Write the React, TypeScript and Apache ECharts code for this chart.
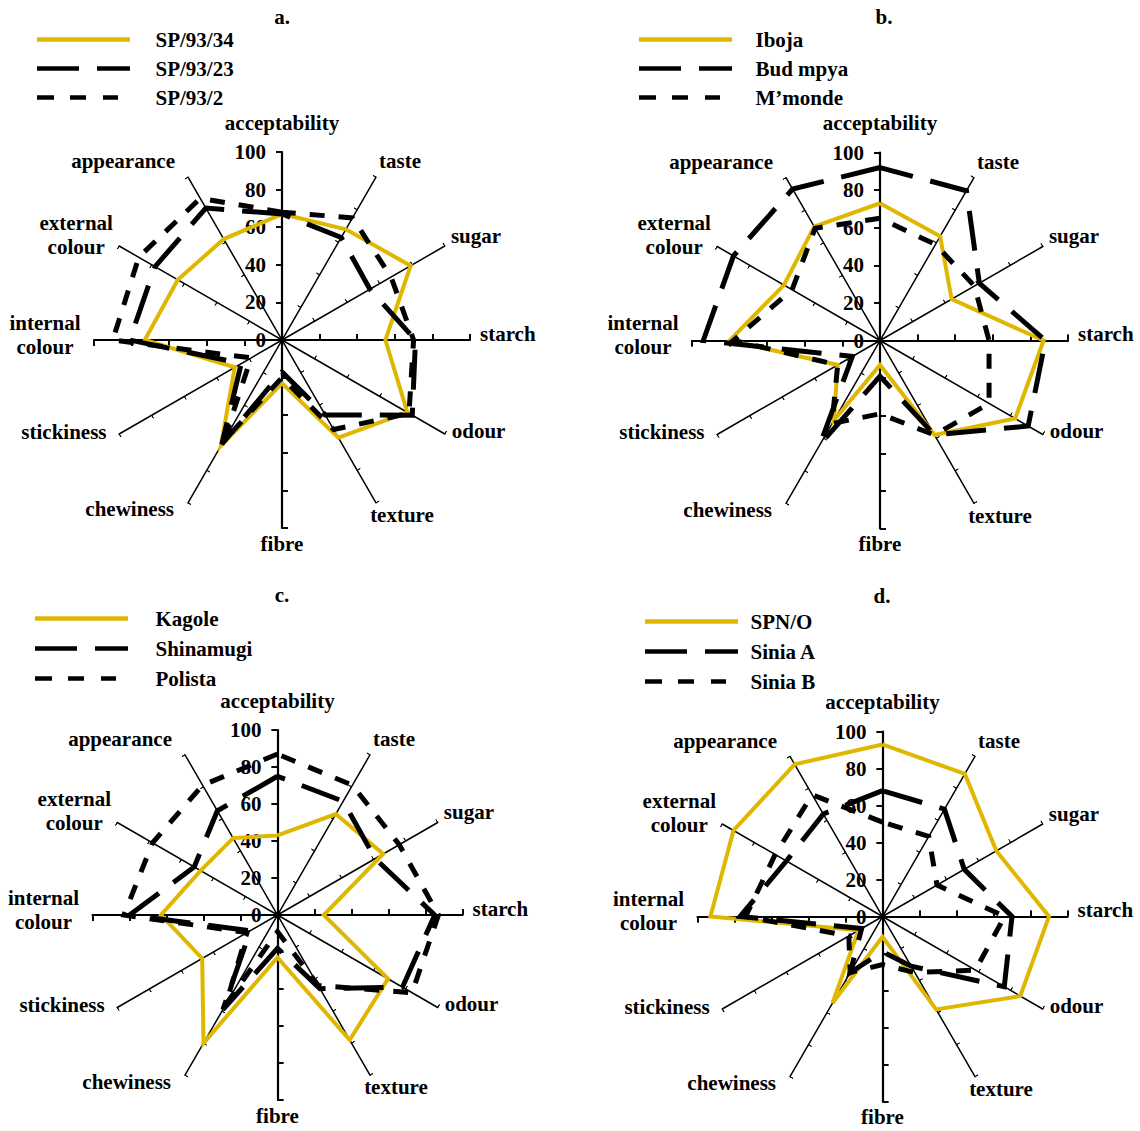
import React, { useEffect, useRef } from 'react';
import * as echarts from 'echarts';

// Attributes in clockwise order starting at the top
const attributes = [
  'acceptability', 'taste', 'sugar', 'starch', 'odour', 'texture',
  'fibre', 'chewiness', 'stickiness', 'internal\ncolour', 'external\ncolour', 'appearance',
];

// Panel a
const panelATitle = 'a.';
const sp93_34 = [67, 68, 79, 55, 77, 60, 23, 65, 29, 73, 64, 62];
const sp93_23 = [67, 63, 54, 71, 80, 46, 17, 64, 25, 81, 78, 81];
const sp93_2 = [68, 75, 67, 70, 78, 55, 20, 62, 19, 90, 88, 87];
// Panel b
const panelBTitle = 'b.';
const iboja = [73, 64, 44, 87, 83, 58, 13, 49, 26, 80, 59, 70];
const budMpya = [92, 92, 61, 88, 91, 58, 19, 64, 17, 94, 90, 93];
const mmonde = [65, 59, 58, 58, 67, 58, 39, 51, 26, 78, 54, 69];
// Panel c
const panelCTitle = 'c.';
const kagole = [43, 63, 66, 25, 69, 78, 23, 80, 47, 63, 48, 48];
const shinamugi = [75, 71, 61, 85, 78, 46, 18, 59, 17, 80, 52, 65];
const polista = [87, 81, 76, 87, 84, 44, 9, 56, 19, 83, 78, 81];
// Panel d
const panelDTitle = 'd.';
const spno = [93, 89, 71, 90, 86, 58, 11, 54, 15, 93, 93, 95];
const siniaA = [68, 67, 51, 70, 76, 31, 19, 35, 13, 77, 60, 64];
const siniaB = [51, 50, 34, 66, 58, 35, 26, 35, 21, 74, 67, 76];

const scaleMin = 0;
const scaleMax = 100;
const scaleSplits = 5;

type Kind = 'solid' | 'long' | 'short';

const panelSeries: { title: string; items: { name: string; values: number[]; kind: Kind }[] }[] = [
  { title: panelATitle, items: [
    { name: 'SP/93/34', values: sp93_34, kind: 'solid' },
    { name: 'SP/93/23', values: sp93_23, kind: 'long' },
    { name: 'SP/93/2', values: sp93_2, kind: 'short' },
  ] },
  { title: panelBTitle, items: [
    { name: 'Iboja', values: iboja, kind: 'solid' },
    { name: 'Bud mpya', values: budMpya, kind: 'long' },
    { name: 'M\u2019monde', values: mmonde, kind: 'short' },
  ] },
  { title: panelCTitle, items: [
    { name: 'Kagole', values: kagole, kind: 'solid' },
    { name: 'Shinamugi', values: shinamugi, kind: 'long' },
    { name: 'Polista', values: polista, kind: 'short' },
  ] },
  { title: panelDTitle, items: [
    { name: 'SPN/O', values: spno, kind: 'solid' },
    { name: 'Sinia A', values: siniaA, kind: 'long' },
    { name: 'Sinia B', values: siniaB, kind: 'short' },
  ] },
];

// Layout (positions / sizes)
const layout = [
  { center: [282, 340], radius: 188, titleXY: [282, 17], legend: { left: 37, top: 29, gap: 8, width: 116 } },
  { center: [880, 340.5], radius: 188, titleXY: [884, 17], legend: { left: 639, top: 29, gap: 8, width: 114 } },
  { center: [277.5, 915], radius: 185, titleXY: [282, 595], legend: { left: 35, top: 608, gap: 9, width: 118 } },
  { center: [882.5, 916.5], radius: 185, titleXY: [882, 596], legend: { left: 645, top: 611, gap: 9, width: 103 } },
];

// Axis-name placement per attribute (clockwise index)
const namePlacement: { gap: number; align?: string; vAlign?: string; padding?: number[]; lh?: number; spacer?: boolean }[] = [
  { gap: 19 },                                                                   // acceptability
  { gap: 6, align: 'left', vAlign: 'bottom' },                                   // taste
  { gap: 7, align: 'left', vAlign: 'bottom', lh: 14 },                           // sugar
  { gap: 10, align: 'left', vAlign: 'bottom', lh: 13 },                          // starch
  { gap: 8, align: 'left', vAlign: 'bottom', lh: 15 },                           // odour
  { gap: 2, align: 'center', vAlign: 'top', padding: [0, 0, 0, 50] },            // texture
  { gap: 5 },                                                                    // fibre
  { gap: 4, align: 'right', vAlign: 'top', lh: 6, padding: [0, 12, 0, 0] },      // chewiness
  { gap: 10, align: 'right', vAlign: 'bottom', lh: 15, padding: [0, 4, 0, 0] },  // stickiness
  { gap: 49, align: 'center', lh: 24, spacer: true },                            // internal colour
  { gap: 71, align: 'center', vAlign: 'top', lh: 24, padding: [0, 0, 0, 37] },   // external colour
  { gap: 6, align: 'right', vAlign: 'bottom', padding: [0, 10, 0, 0] },          // appearance
];

const YELLOW = '#E0B700';
const BLACK = '#000000';
const FONT = '"Liberation Serif", "Times New Roman", serif';

// ECharts radar places indicators counter-clockwise, so reorder.
const ccw = [0, 11, 10, 9, 8, 7, 6, 5, 4, 3, 2, 1];
const mainAxes = new Set([0, 3, 6, 9]);

function legendIcon(kind: Kind, total: number) {
  const h = 4.5;
  const rect = (x0: number, x1: number) => `M${x0},0 L${x1},0 L${x1},${h} L${x0},${h} Z`;
  let d = '';
  if (kind === 'solid') d = rect(0, 93);
  else if (kind === 'long') d = rect(0, 42) + ' ' + rect(60, 93);
  else d = rect(0, 17) + ' ' + rect(33, 49) + ' ' + rect(66, 81);
  d += ` M${total - 0.01},${h / 2} L${total},${h / 2} Z`;
  return 'path://' + d;
}

function lineStyleFor(kind: Kind) {
  if (kind === 'solid') return { color: YELLOW, width: 4, type: 'solid' as any, join: 'miter' as any, cap: 'butt' as any };
  if (kind === 'long') return { color: BLACK, width: 5, type: [40, 18] as any, join: 'miter' as any, cap: 'butt' as any };
  return { color: BLACK, width: 5, type: [15, 14] as any, join: 'miter' as any, cap: 'butt' as any };
}

function buildOption() {
  const radars: any[] = [];
  layout.forEach((l) => {
    radars.push({
      center: l.center,
      radius: l.radius,
      startAngle: 90,
      splitNumber: scaleSplits,
      shape: 'polygon',
      indicator: ccw.map((i) => {
        const main = mainAxes.has(i);
        const np = namePlacement[i];
        const nts: any = {};
        if (np.align) nts.align = np.align;
        if (np.vAlign) nts.verticalAlign = np.vAlign;
        if (np.padding) nts.padding = np.padding;
        if (np.lh) nts.lineHeight = np.lh;
        if (np.spacer) nts.rich = { sp: { lineHeight: 11, fontSize: 10 } };
        const ind: any = {
          name: np.spacer ? attributes[i] + '\n{sp| }' : attributes[i],
          min: scaleMin,
          max: scaleMax,
          nameGap: np.gap,
          nameTextStyle: nts,
          axisLine: { lineStyle: { width: main ? 2.2 : 1.5 } },
          axisTick: { length: main ? 6 : 3.5, lineStyle: { width: main ? 1.6 : 1 } },
        };
        if (i === 0) ind.axisLabel = { show: true };
        return ind;
      }),
      axisName: { color: BLACK, fontSize: 21, fontWeight: 'bold', fontFamily: FONT, lineHeight: 21 },
      nameGap: 10,
      splitLine: { show: false },
      splitArea: { show: false },
      axisLine: { show: true, lineStyle: { color: BLACK, width: 1.5 } },
      axisTick: { show: true, length: 3.5, lineStyle: { color: BLACK, width: 1 } },
      axisLabel: { show: false, color: BLACK, fontSize: 21, fontWeight: 'bold', fontFamily: FONT, margin: 16 },
      z: 1,
    });
  });
  // overlay radars: ticks on the other side of each spoke
  layout.forEach((l) => {
    radars.push({
      center: l.center,
      radius: l.radius,
      startAngle: 90,
      splitNumber: scaleSplits,
      shape: 'polygon',
      indicator: ccw.map((i) => {
        const main = mainAxes.has(i);
        return {
          name: '',
          min: scaleMin,
          max: scaleMax,
          axisTick: { length: main ? 6 : 3.5, lineStyle: { width: main ? 1.6 : 1 } },
        };
      }),
      axisName: { show: false },
      splitLine: { show: false },
      splitArea: { show: false },
      axisLine: { show: false },
      axisTick: { show: true, inside: true, length: 3.5, lineStyle: { color: BLACK, width: 1 } },
      axisLabel: { show: false },
      z: 1,
    });
  });

  const series: any[] = [];
  panelSeries.forEach((p, pi) => {
    p.items.forEach((it) => {
      const ls = lineStyleFor(it.kind);
      series.push({
        type: 'radar',
        radarIndex: pi,
        name: it.name,
        symbol: 'none',
        silent: true,
        lineStyle: ls,
        itemStyle: { color: ls.color },
        data: [{ name: it.name, value: ccw.map((i) => it.values[i]) }],
        z: 3,
      });
    });
  });

  const legends = panelSeries.map((p, pi) => {
    const lg = layout[pi].legend;
    return {
      orient: 'vertical',
      left: lg.left,
      top: lg.top,
      padding: 0,
      itemGap: lg.gap,
      itemWidth: lg.width,
      itemHeight: 4.5,
      selectedMode: false,
      itemStyle: { borderWidth: 0 },
      textStyle: { color: BLACK, fontSize: 21, fontWeight: 'bold', fontFamily: FONT },
      data: p.items.map((it) => ({ name: it.name, icon: legendIcon(it.kind, lg.width - 5) })),
    };
  });

  const graphics = panelSeries.map((p, pi) => ({
    type: 'text',
    x: layout[pi].titleXY[0],
    y: layout[pi].titleXY[1],
    style: {
      text: p.title,
      fill: BLACK,
      font: `bold 21px ${FONT}`,
      align: 'center',
      verticalAlign: 'middle',
    },
  }));

  return {
    animation: false,
    backgroundColor: '#ffffff',
    radar: radars,
    legend: legends,
    graphic: graphics,
    series,
  };
}

export default function App() {
  const ref = useRef<HTMLDivElement>(null);
  useEffect(() => {
    if (!ref.current) return;
    const chart = echarts.init(ref.current, undefined, { renderer: 'svg' });
    chart.setOption(buildOption() as any);
    return () => chart.dispose();
  }, []);
  return (
    <div
      ref={ref}
      style={{ position: 'absolute', left: 0, top: 0, width: 1140, height: 1131 }}
    />
  );
}
